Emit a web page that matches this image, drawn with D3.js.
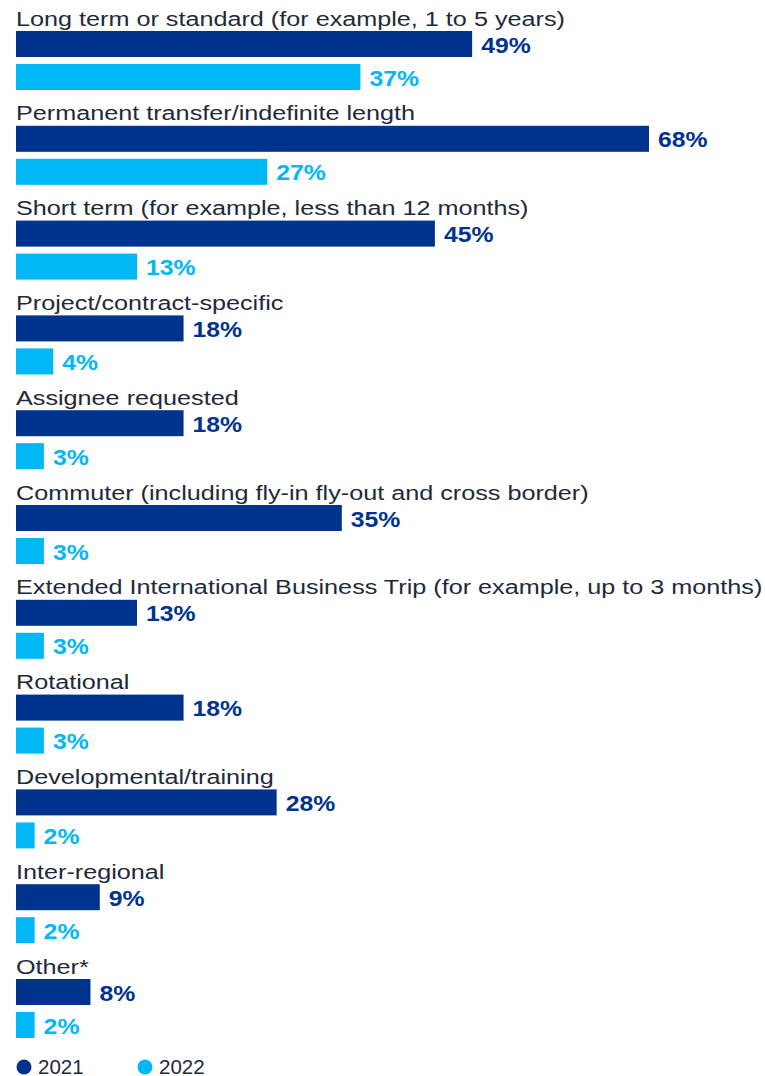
<!DOCTYPE html>
<html><head><meta charset="utf-8">
<script src="https://cdn.jsdelivr.net/npm/d3@7"></script>
<style>body{margin:0;background:#fff}</style>
</head><body><svg id="c" width="765" height="1076"></svg>
<script>
const categories = [
  "Long term or standard (for example, 1 to 5 years)",
  "Permanent transfer/indefinite length",
  "Short term (for example, less than 12 months)",
  "Project/contract-specific",
  "Assignee requested",
  "Commuter (including fly-in fly-out and cross border)",
  "Extended International Business Trip (for example, up to 3 months)",
  "Rotational",
  "Developmental/training",
  "Inter-regional",
  "Other*"
];
const values2021 = [49, 68, 45, 18, 18, 35, 13, 18, 28, 9, 8];
const values2022 = [37, 27, 13, 4, 3, 3, 3, 3, 2, 2, 2];
const seriesNames = ["2021", "2022"];
const colors = ["#00338D", "#00B8F5"];

const svg = d3.select("#c");
const x = d3.scaleLinear().domain([0, 68]).range([16, 649]);
const y = d3.scaleBand().domain(d3.range(categories.length)).range([31, 31 + 94.8 * 11]).paddingInner(0).paddingOuter(0);
const barH = 26, gap = 7;
const font = "Liberation Sans, Arial, sans-serif";

const g = svg.append("g");
const rows = g.selectAll("g.row").data(categories).join("g").attr("class", "row")
  .attr("transform", (d, i) => `translate(0,${y(i)})`);

rows.append("text").attr("transform", "translate(16,-5.5) scale(1.2,1)")
  .attr("font-family", font).attr("font-size", 21)
  .attr("fill", "#1E2A3A").text(d => d);

[values2021, values2022].forEach((vals, s) => {
  rows.append("rect").attr("x", x(0)).attr("y", s * (barH + gap))
    .attr("width", (d, i) => x(vals[i]) - x(0)).attr("height", barH)
    .attr("fill", colors[s]);
  rows.append("text")
    .attr("transform", (d, i) => `translate(${x(vals[i]) + 9},${s * (barH + gap) + 21.5}) scale(1.1,1)`)
    .attr("font-family", font).attr("font-size", 22.5).attr("font-weight", "bold")
    .attr("fill", colors[s]).text((d, i) => vals[i] + "%");
});

const leg = svg.append("g").selectAll("g").data(seriesNames).join("g")
  .attr("transform", (d, i) => `translate(${24 + i * 121},1067)`);
leg.append("circle").attr("r", 7.5).attr("fill", (d, i) => colors[i]);
leg.append("text").attr("x", 14).attr("y", 7)
  .attr("font-family", font).attr("font-size", 20.5)
  .attr("fill", "#1E2A3A").text(d => d);
</script></body></html>
